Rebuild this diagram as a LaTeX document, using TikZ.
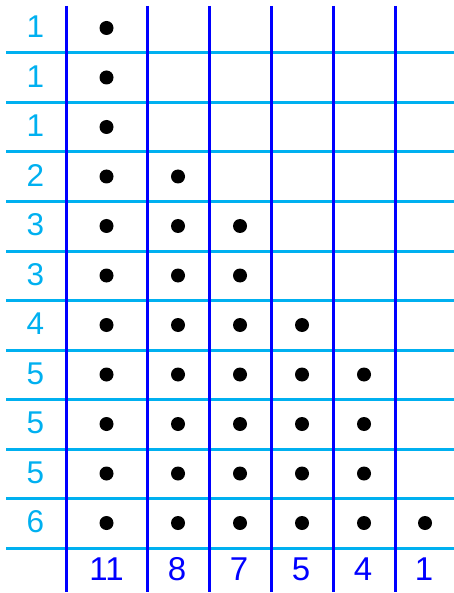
\documentclass[tikz,border=0pt]{standalone}
\usepackage{fontspec}
\setmainfont{Liberation Sans}
\definecolor{lblue}{RGB}{0,176,240}
\definecolor{dblue}{RGB}{0,0,255}
\tikzset{
  hline/.style={draw=lblue, line width=3pt},
  vline/.style={draw=dblue, line width=3pt},
  rowlab/.style={text=lblue, font=\fontsize{31.5}{31.5}\selectfont, inner sep=0pt},
  collab/.style={text=dblue, font=\fontsize{33}{33}\selectfont, inner sep=0pt},
  dot/.style={circle, fill=black, inner sep=0pt, minimum size=14pt}
}
\begin{document}
\begin{tikzpicture}[x=1pt,y=-1pt]
\useasboundingbox (0,0) rectangle (454,593);
% horizontal lines
\foreach \k in {0,...,10} {
  \draw[hline] (6,{53+49.5*\k}) -- (454,{53+49.5*\k});
}
% vertical lines
\foreach \x in {66,147,209,271,333,395} {
  \draw[vline] (\x,6) -- (\x,592);
}
% row labels and dots
\foreach \n [count=\r from 0] in {1,1,1,2,3,3,4,5,5,5,6} {
  \node[rowlab] (row\r) at (35.5,{27+49.5*\r}) {\n};
  \foreach \c [count=\ci from 1] in {106.5,178,240,302,364,425} {
    \ifnum\ci>\n\else
      \node[dot] (d\r-\ci) at (\c,{28+49.5*\r}) {};
    \fi
  }
}
% column labels
\foreach \t/\c [count=\ci] in {11/106.5,8/177,7/239,5/301,4/363,1/424} {
  \node[collab] (col\ci) at (\c,569) {\t};
}
\end{tikzpicture}
\end{document}
